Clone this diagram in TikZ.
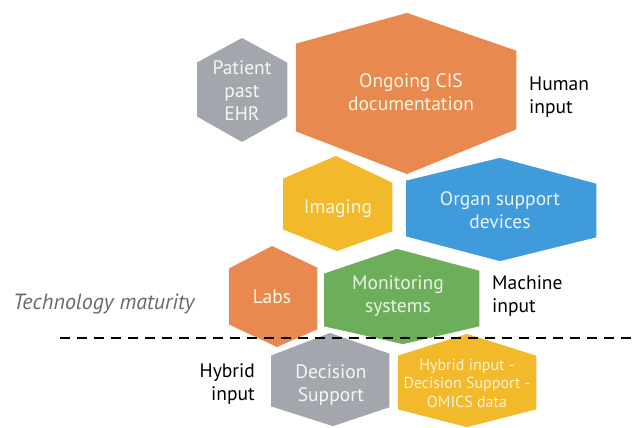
\documentclass[tikz,border=0pt]{standalone}
\usepackage{fontspec}
\setmainfont{PT Sans}
\usepackage{xcolor}
\usepackage{tikz}

\definecolor{hexorange}{RGB}{232,137,79}
\definecolor{hexgray}{RGB}{163,167,173}
\definecolor{hexyellow}{RGB}{242,186,42}
\definecolor{hexblue}{RGB}{63,155,218}
\definecolor{hexgreen}{RGB}{109,174,90}
\definecolor{matgray}{RGB}{105,105,105}

\tikzset{
  hexfill/.style={draw=white,line width=1.5pt,line join=miter},
  hextext/.style={align=center,font=\fontsize{19.5}{23}\selectfont,inner sep=0pt},
  sidetext/.style={align=left,anchor=west,font=\fontsize{19.5}{23}\selectfont,inner sep=0pt,text=black}
}

\begin{document}
\begin{tikzpicture}[x=1pt,y=-1pt]
\useasboundingbox (0,0) rectangle (635,428);
\begin{scope}

    % top row
    \fill[hexgray,hexfill] (242,37) -- (288,62) -- (288,117) -- (242,143) -- (196,117) -- (196,62) -- cycle;
    \node[hextext,text=white!88!hexgray] (ehr) at (242,91) {Patient\\past\\EHR};

    \fill[hexorange,hexfill] (407,12) -- (517,50) -- (517,130) -- (407,175) -- (295,132) -- (295,43) -- cycle;
    \node[hextext,text=white!85!hexyellow] (cis) at (411,92) {Ongoing CIS\\documentation};
    \node[sidetext] (human) at (529,97) {Human\\input};

    % middle row
    \fill[hexyellow,hexfill] (336,155) -- (393,182) -- (393,232) -- (337,252) -- (282,230) -- (282,178) -- cycle;
    \node[hextext,text=white!88!hexyellow] (imaging) at (338,209) {Imaging};

    \fill[hexblue,hexfill] (500,157) -- (597,183) -- (597,238) -- (500,262) -- (405,237) -- (405,180) -- cycle;
    \node[hextext,text=white!88!hexblue] (organ) at (500,210) {Organ support\\devices};

    \fill[hexorange,hexfill] (272,245) -- (318,267) -- (318,330) -- (277,348) -- (228,325) -- (228,268) -- cycle;
    \node[hextext,text=white!85!hexyellow] (labs) at (272,297) {Labs};

    \fill[hexgreen,hexfill] (397,248) -- (480,270) -- (480,327) -- (403,345) -- (323,327) -- (323,273) -- cycle;
    \node[hextext,text=white!85!hexgreen] (monitor) at (398,296) {Monitoring\\systems};
    \node[sidetext] (machine) at (492,296) {Machine\\input};

    % bottom row
    \fill[hexgray,hexfill] (330,332) -- (390,353) -- (390,408) -- (333,427) -- (270,407) -- (270,355) -- cycle;
    \node[hextext,text=white!88!hexgray] (decision) at (331,385) {Decision\\Support};

    \fill[hexyellow,hexfill] (467,333) -- (537,355) -- (537,410) -- (467,428) -- (397,410) -- (397,355) -- cycle;
    \node[hextext,text=white!80!hexyellow,font=\fontsize{16}{18.5}\selectfont] (omics) at (467,383) {Hybrid input -\\Decision Support -\\OMICS data};

    \node[sidetext,align=right,anchor=east] (hybrid) at (255,384) {Hybrid\\input};

    % maturity line
    \node[inner sep=0pt,anchor=west,text=matgray,font=\fontsize{22}{26}\selectfont\itshape] (maturity) at (13,304) {Technology maturity};
    \coordinate (lineL) at (60,338);
    \coordinate (lineR) at (635,338);
    \draw[black,line width=2.6pt,dash pattern=on 10pt off 7pt] (lineL) -- (lineR);

\end{scope}
\end{tikzpicture}
\end{document}
